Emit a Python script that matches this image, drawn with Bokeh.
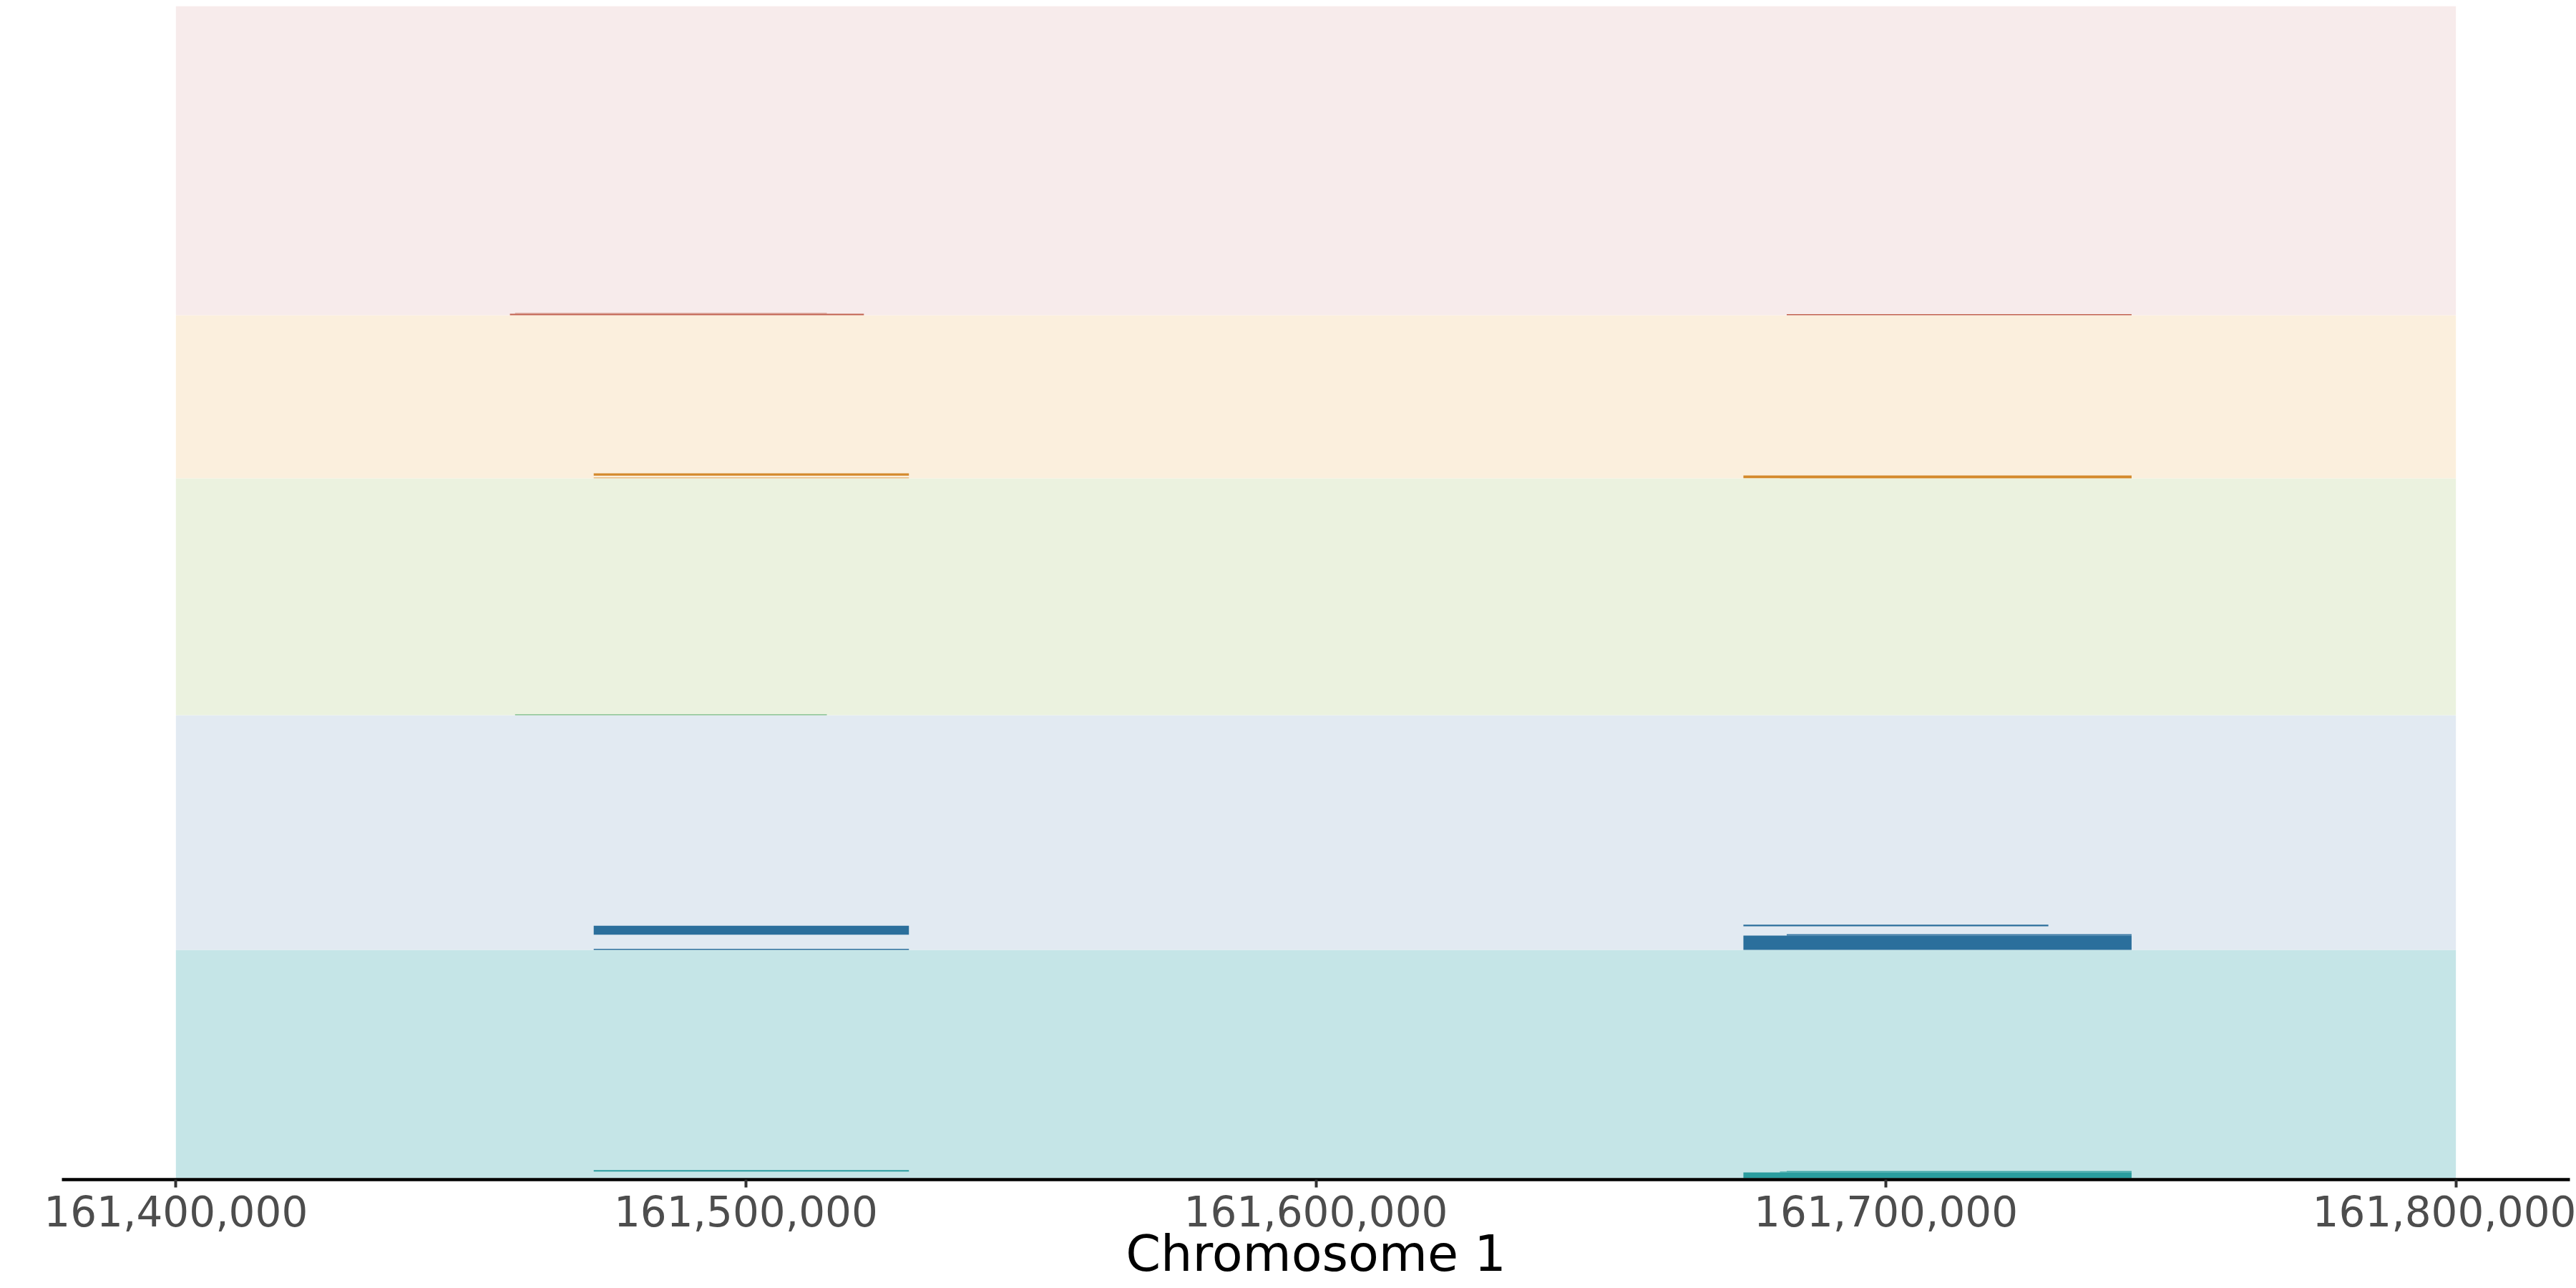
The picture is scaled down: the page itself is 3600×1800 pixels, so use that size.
from bokeh.plotting import figure
from bokeh.models import Range1d, FixedTicker, NumeralTickFormatter, ColumnDataSource
from bokeh.embed import file_html
from bokeh.resources import INLINE

# ---- data ----
tracks = ["Track 1", "Track 2", "Track 3", "Track 4", "Track 5"]   # bottom -> top
band_bottom = [0, 319, 647, 978, 1206]
band_top = [319, 647, 978, 1206, 1638]
band_fill = ["#C5E5E7", "#E2EAF2", "#EBF2DF", "#FBEFDD", "#F7EBEB"]
bar_color = ["#2A9D9F", "#2B6F9C", "#74B883", "#D48A2C", "#C1614E"]

region_start = 161_400_000
region_end = 161_800_000

feat_track = [0, 0, 0, 0,
              1, 1, 1, 1, 1,
              2,
              3, 3, 3, 3,
              4, 4, 4]
feat_start = [161_473_300, 161_675_000, 161_682_600, 161_681_400,
              161_473_300, 161_473_300, 161_675_000, 161_675_000, 161_682_600,
              161_459_500,
              161_473_300, 161_473_300, 161_675_000, 161_681_400,
              161_458_600, 161_459_500, 161_682_600]
feat_end = [161_528_600, 161_743_100, 161_743_100, 161_682_600,
            161_528_600, 161_528_600, 161_728_500, 161_743_100, 161_743_100,
            161_514_200,
            161_528_600, 161_528_600, 161_743_100, 161_743_100,
            161_520_700, 161_514_200, 161_743_100]
feat_lo = [9.3, 0, 8, 8,
           0, 21.3, 33, 0, 20,
           0,
           0, 3.7, 0.3, 0,
           0, 2, 0]
feat_hi = [11.3, 8, 10, 9.3,
           1.5, 33.7, 35.3, 20, 22,
           1.3,
           1.5, 7, 4, 0.7,
           2, 3.5, 1.5]
feat_alpha = [1.0, 1.0, 0.85, 0.85,
              1.0, 1.0, 1.0, 1.0, 0.9,
              1.0,
              0.5, 1.0, 1.0, 0.5,
              1.0, 0.4, 1.0]

tick_values = [161_400_000, 161_500_000, 161_600_000, 161_700_000, 161_800_000]
x_label = "Chromosome 1"

# ---- figure ----
p = figure(width=3600, height=1800, output_backend="svg", toolbar_location=None,
           x_range=Range1d(161_380_000, 161_820_000), y_range=Range1d(-2, 1638),
           y_axis_location=None, min_border_left=86, min_border_right=9,
           min_border_top=8, min_border_bottom=152)
p.outline_line_color = None
p.xgrid.visible = False
p.ygrid.visible = False
p.background_fill_color = "white"

bands = ColumnDataSource(dict(left=[region_start] * len(tracks), right=[region_end] * len(tracks),
                              bottom=band_bottom, top=band_top, color=band_fill))
p.quad(left="left", right="right", bottom="bottom", top="top", fill_color="color",
       line_color=None, source=bands)

feats = ColumnDataSource(dict(
    left=feat_start, right=feat_end,
    bottom=[band_bottom[t] + lo for t, lo in zip(feat_track, feat_lo)],
    top=[band_bottom[t] + hi for t, hi in zip(feat_track, feat_hi)],
    color=[bar_color[t] for t in feat_track], alpha=feat_alpha))
p.quad(left="left", right="right", bottom="bottom", top="top", fill_color="color",
       fill_alpha="alpha", line_color=None, source=feats)

ax = p.xaxis[0]
ax.ticker = FixedTicker(ticks=tick_values)
ax.formatter = NumeralTickFormatter(format="0,0")
ax.axis_line_color = "black"
ax.axis_line_width = 4.5
ax.major_tick_line_color = "#333333"
ax.major_tick_line_width = 4
ax.major_tick_out = 11
ax.major_tick_in = 0
ax.minor_tick_line_color = None
ax.major_label_text_font = "DejaVu Sans"
ax.major_label_text_font_size = "58px"
ax.major_label_text_color = "#4D4D4D"
ax.major_label_standoff = 11
ax.axis_label = x_label
ax.axis_label_text_font = "DejaVu Sans"
ax.axis_label_text_font_size = "70px"
ax.axis_label_text_font_style = "normal"
ax.axis_label_text_color = "black"
ax.axis_label_standoff = -6

open("out.html", "w").write(file_html(p, INLINE))
